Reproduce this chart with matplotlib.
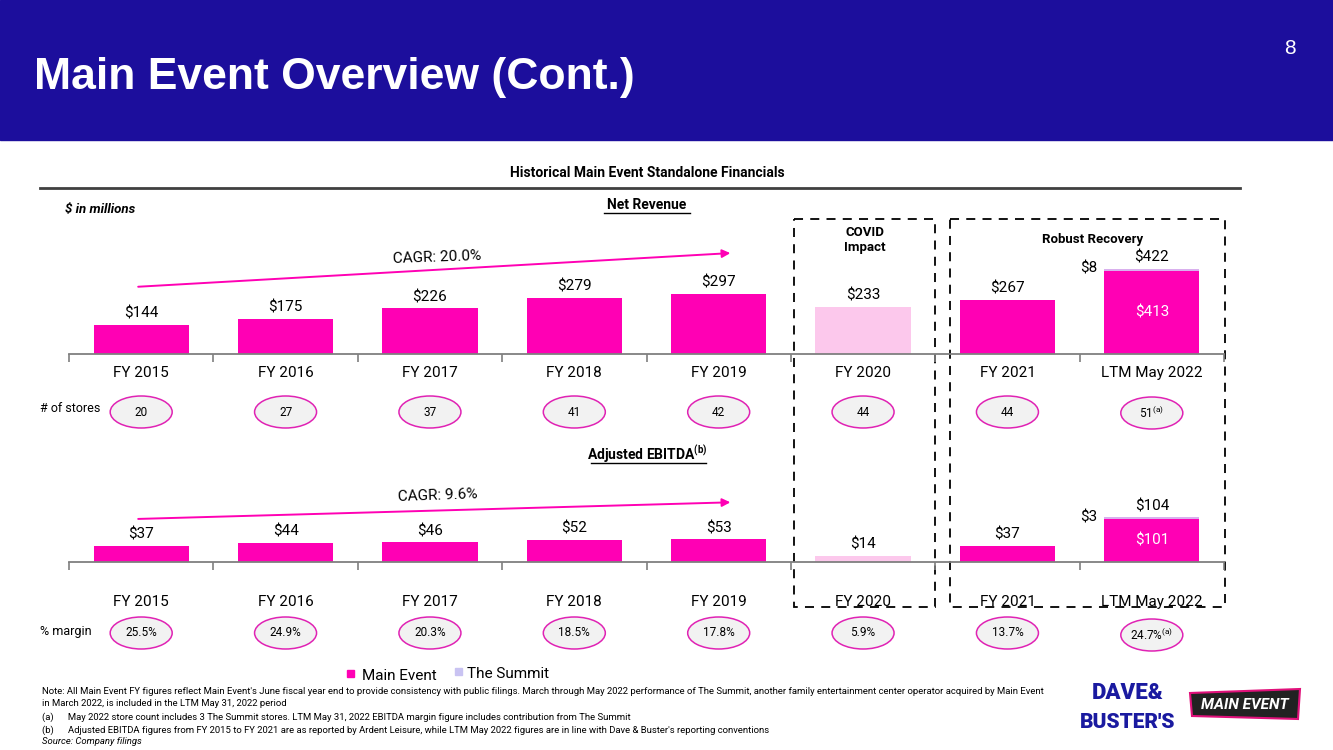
import matplotlib
matplotlib.use("Agg")
import matplotlib.pyplot as plt
from matplotlib.patches import Rectangle, Ellipse, Polygon

# ---------------- data ----------------
categories = ["FY 2015", "FY 2016", "FY 2017", "FY 2018", "FY 2019", "FY 2020", "FY 2021", "LTM May 2022"]
rev_main = [144, 175, 226, 279, 297, 233, 267, 413]
rev_summit = [0, 0, 0, 0, 0, 0, 0, 8]
rev_total_labels = ["$144", "$175", "$226", "$279", "$297", "$233", "$267", "$422"]
ebitda_main = [37, 44, 46, 52, 53, 14, 37, 101]
ebitda_summit = [0, 0, 0, 0, 0, 0, 0, 3]
ebitda_total_labels = ["$37", "$44", "$46", "$52", "$53", "$14", "$37", "$104"]
stores = ["20", "27", "37", "41", "42", "44", "44", r"51$^{\mathrm{(a)}}$"]
margins = ["25.5%", "24.9%", "20.3%", "18.5%", "17.8%", "5.9%", "13.7%", r"24.7%$^{\mathrm{(a)}}$"]
rev_cagr = "CAGR: 20.0%"
ebitda_cagr = "CAGR: 9.6%"

PINK = "#ff00b4"
LIGHT_PINK = "#fcc8ec"
SUMMIT = "#d9b0ee"
LEGEND_SUMMIT = "#c9c3f2"
NAVY = "#1c0e9c"
FONT = ["Roboto", "DejaVu Sans"]
W, H = 1333, 750

plt.rcParams["mathtext.fontset"] = "custom"
plt.rcParams["mathtext.rm"] = "Roboto"
plt.rcParams["mathtext.bf"] = "Roboto:bold"

fig = plt.figure(figsize=(W / 100, H / 100), dpi=100)
bg = fig.add_axes([0, 0, 1, 1], zorder=0)
bg.set_xlim(0, W)
bg.set_ylim(H, 0)
bg.axis("off")


def ax_rect(left, top, right, bottom):
    return [left / W, 1 - bottom / H, (right - left) / W, (bottom - top) / H]


# header
bg.add_patch(Rectangle((0, 0), W, 140, color=NAVY, zorder=1))
bg.text(34, 77, "Main Event Overview (Cont.)", color="white", fontsize=32, fontweight="bold",
        family=["Liberation Sans", "DejaVu Sans"], va="center", ha="left", zorder=2)
bg.text(1290, 48, "8", color="white", fontsize=15, family=["Liberation Sans", "DejaVu Sans"],
        va="center", ha="center", zorder=2)

bg.text(647, 173, "Historical Main Event Standalone Financials", fontsize=10, fontweight="bold",
        family=FONT, ha="center", va="center")
bg.plot([40, 1240], [188, 188], color="#404040", lw=2)
bg.text(65, 209, "$ in millions", fontsize=9.5, fontweight="bold", style="italic",
        family=FONT, ha="left", va="center")
bg.text(647, 205, "Net Revenue", fontsize=10, fontweight="bold", family=FONT,
        ha="center", va="center")
bg.plot([604, 690], [213, 213], color="black", lw=1)
bg.text(647, 454, r"Adjusted EBITDA$^{\mathbf{(b)}}$", fontsize=10, fontweight="bold", family=FONT,
        ha="center", va="center")
bg.plot([591, 706], [463, 463], color="black", lw=1)

# dashed boxes
bg.add_patch(Rectangle((794, 219), 141, 388, fill=False, ec="black", lw=1.3, ls=(0, (5, 4))))
bg.add_patch(Rectangle((950, 219), 275, 388, fill=False, ec="black", lw=1.3, ls=(0, (5, 4))))
bg.text(865, 240, "COVID\nImpact", fontsize=9.5, fontweight="bold", family=FONT,
        ha="center", va="center", linespacing=1.3)
bg.text(1093, 239, "Robust Recovery", fontsize=9.5, fontweight="bold", family=FONT,
        ha="center", va="center")

x = list(range(len(categories)))


def make_chart(rect, ymax, main, summit, labels, pad, cagr_text, cagr_from, cagr_to, cagr_txt_pos):
    ax = fig.add_axes(rect, zorder=2)
    ax.patch.set_alpha(0)
    colors = [LIGHT_PINK if c == "FY 2020" else PINK for c in categories]
    ax.bar(x, main, width=0.66, color=colors, zorder=2)
    ax.bar(x, summit, bottom=main, width=0.66, color=SUMMIT, zorder=2)
    ax.set_xlim(-0.5, len(categories) - 0.5)
    ax.set_ylim(0, ymax)
    for s in ["top", "right", "left"]:
        ax.spines[s].set_visible(False)
    ax.spines["bottom"].set_color("#7f7f7f")
    ax.spines["bottom"].set_linewidth(1.3)
    ax.set_yticks([])
    ax.set_xticks([i - 0.5 for i in range(len(categories) + 1)])
    ax.set_xticklabels([])
    ax.tick_params(axis="x", which="major", length=6, color="#7f7f7f", width=1.2)
    ax.set_xticks(x, minor=True)
    ax.set_xticklabels(categories, minor=True, fontsize=11, family=FONT)
    ax.tick_params(axis="x", which="minor", length=0, pad=pad)
    for i in x:
        tot = main[i] + summit[i]
        ax.annotate(labels[i], (i, tot), xytext=(0, 3), textcoords="offset points",
                    ha="center", va="bottom", fontsize=11, family=FONT)
        if summit[i] > 0:
            ax.annotate(f"${summit[i]}", (i - 0.33, tot), xytext=(-5, 0), textcoords="offset points",
                        ha="right", va="center", fontsize=11, family=FONT)
            ax.text(i, main[i] / 2, f"${main[i]}", ha="center", va="center", fontsize=11,
                    family=FONT, color="white")
    ax.annotate("", xy=cagr_to, xytext=cagr_from,
                arrowprops=dict(arrowstyle="-|>", color=PINK, lw=1.4, mutation_scale=12))
    ax.text(cagr_txt_pos[0], cagr_txt_pos[1], cagr_text, ha="center", va="center",
            fontsize=11, family=FONT, rotation=2)
    return ax


ax1 = make_chart(ax_rect(69, 220, 1224, 354), 663, rev_main, rev_summit, rev_total_labels, 8.5,
                 rev_cagr, (-0.04, 332), (4.1, 500), (2.05, 478))
ax2 = make_chart(ax_rect(69, 470, 1224, 562), 214, ebitda_main, ebitda_summit, ebitda_total_labels, 24,
                 ebitda_cagr, (-0.04, 100), (4.1, 139), (2.05, 154))


def cat_px(ax, i):
    disp = ax.transData.transform((i, 0))
    return bg.transData.inverted().transform(disp)[0]


bg.text(40, 408, "# of stores", fontsize=9, family=FONT, ha="left", va="center")
bg.text(40, 632, "% margin", fontsize=9, family=FONT, ha="left", va="center")
for i in x:
    cx = cat_px(ax1, i)
    yy = 412 if i < 7 else 413
    bg.add_patch(Ellipse((cx, yy), 62, 32, fc="#f2f2f2", ec="#e023b4", lw=1.1))
    bg.text(cx, yy, stores[i], fontsize=8.5, family=FONT, ha="center", va="center")
    yy2 = 633 if i < 7 else 635
    bg.add_patch(Ellipse((cx, yy2), 62, 32, fc="#f2f2f2", ec="#e023b4", lw=1.1))
    bg.text(cx, yy2, margins[i], fontsize=8.5, family=FONT, ha="center", va="center")

# legend
bg.add_patch(Rectangle((347, 670), 7, 7, color=PINK))
bg.text(362, 676, "Main Event", fontsize=11, family=FONT, ha="left", va="center")
bg.add_patch(Rectangle((455, 668), 7, 7, color=LEGEND_SUMMIT))
bg.text(467, 674, "The Summit", fontsize=11, family=FONT, ha="left", va="center")

# footnotes
notes = [
    (692, "Note: All Main Event FY figures reflect Main Event's June fiscal year end to provide consistency with public filings. March through May 2022 performance of The Summit, another family entertainment center operator acquired by Main Event", "normal"),
    (704, "in March 2022, is included in the LTM May 31, 2022 period", "normal"),
    (717, "(a)      May 2022 store count includes 3 The Summit stores. LTM May 31, 2022 EBITDA margin figure includes contribution from The Summit", "normal"),
    (730, "(b)      Adjusted EBITDA figures from FY 2015 to FY 2021 are as reported by Ardent Leisure, while LTM May 2022 figures are in line with Dave & Buster's reporting conventions", "normal"),
    (742, "Source: Company filings", "italic"),
]
for yy, t, st in notes:
    bg.text(42, yy, t, fontsize=6.8, family=FONT, style=st, ha="left", va="center")

# logos (approximate)
bg.text(1128, 693, "DAVE&", fontsize=16, fontweight="black", color="#1a1aa0", family=FONT,
        ha="center", va="center")
bg.text(1128, 722, "BUSTER'S", fontsize=15, fontweight="black", color="#1a1aa0", family=FONT,
        ha="center", va="center")
bg.add_patch(Polygon([[1190, 693], [1300, 689], [1298, 719], [1192, 716]], closed=True,
                     fc="#222222", ec="#e0107a", lw=1.5))
bg.text(1245, 705, "MAIN EVENT", fontsize=11, fontweight="bold", style="italic", color="white",
        family=FONT, ha="center", va="center")

fig.savefig("out.png", dpi=100)
